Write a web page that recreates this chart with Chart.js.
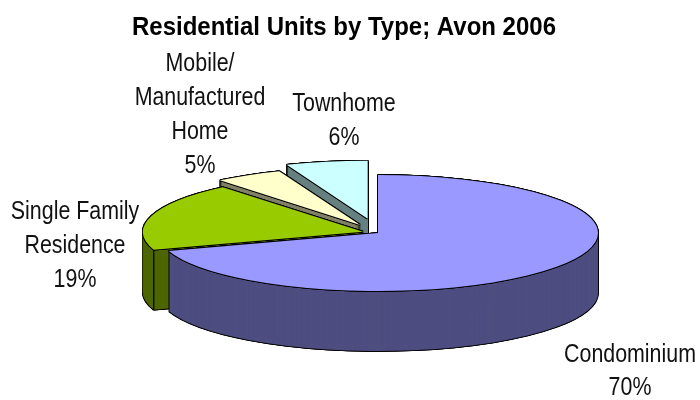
<!DOCTYPE html>
<html><head><meta charset="utf-8">
<style>html,body{margin:0;padding:0;background:#fff}#w{width:700px;height:400px}</style>
<script src="https://cdn.jsdelivr.net/npm/chart.js@4"></script>
</head><body><div id="w"><canvas id="c" width="700" height="400"></canvas></div>
<script>
const categories = ['Condominium','Single Family Residence','Mobile/ Manufactured Home','Townhome'];
const shares = [70,19,5,6];
const topColors = ['#9999FF','#99CC00','#FFFFCC','#CCFFFF'];
const wallColors = ['#4D4D80','#4D6600','#808066','#668080'];
const chartTitle = 'Residential Units by Type; Avon 2006';
const labelLines = [['Condominium','70%'],['Single Family','Residence','19%'],['Mobile/','Manufactured','Home','5%'],['Townhome','6%']];

const FONT = '"Liberation Sans",Arial,sans-serif';
const VIEW = {cx:378, cy:233, rx:220, ry:58, depth:60};
const EXPLODE = [0,0.071,0.159,0.25];
const LABEL_POS = [[630,355.5,33],[75,212,34],[200,64,34],[344,104,34]];
const TEXT_SQUEEZE = 0.855;

const pie3d = {
  id:'pie3d',
  beforeDraw(chart){
    const t = chart.titleBlock;
    t.left = 132; t.right = 556;
  },
  beforeDatasetsDraw(chart){
    const ctx = chart.ctx;
    const arcs = chart.getDatasetMeta(0).data;
    const place = (arc,i,d,ox,oy)=>{
      const R = arc.outerRadius;
      const mid = (arc.startAngle+arc.endAngle)/2;
      const e = EXPLODE[i]*R;
      ctx.translate(VIEW.cx+ox, VIEW.cy+d+oy);
      ctx.scale(VIEW.rx/R, VIEW.ry/R);
      ctx.translate(-arc.x+Math.cos(mid)*e, -arc.y+Math.sin(mid)*e);
    };
    const paint = (arc,i,d,ox,oy,color)=>{
      ctx.save();
      place(arc,i,d,ox,oy);
      const o = arc.options;
      arc.options = Object.assign(Object.create(o),{backgroundColor:color,borderWidth:0});
      arc.draw(ctx);
      arc.options = o;
      ctx.restore();
    };
    const w = 0.75;
    const ring = [[-w,0],[w,0],[0,-w],[0,w],[-w,-w],[w,-w],[-w,w],[w,w]];
    for(let i=arcs.length-1;i>=0;i--){
      const arc = arcs[i];
      for(const [ox,oy] of ring){
        for(let d=VIEW.depth;d>=0;d-=2) paint(arc,i,d,ox,oy,'#000');
      }
      for(let d=VIEW.depth;d>=0;d--) paint(arc,i,d,0,0,wallColors[i]);
      const mid=(arc.startAngle+arc.endAngle)/2, e=EXPLODE[i];
      const sx = VIEW.cx+VIEW.rx*(Math.cos(arc.startAngle)+Math.cos(mid)*e);
      const sy = VIEW.cy+VIEW.ry*(Math.sin(arc.startAngle)+Math.sin(mid)*e);
      ctx.save();ctx.strokeStyle='#000';ctx.lineWidth=1.2;ctx.beginPath();ctx.moveTo(sx,sy);ctx.lineTo(sx,sy+VIEW.depth);ctx.stroke();ctx.restore();
      for(const [ox,oy] of ring) paint(arc,i,0,ox,oy,'#000');
      paint(arc,i,0,0,0,topColors[i]);
    }
    return false;
  },
  afterDraw(chart){
    const ctx = chart.ctx;
    ctx.save();
    ctx.fillStyle='#111';
    ctx.font='25px '+FONT;
    ctx.textAlign='center';ctx.textBaseline='middle';
    labelLines.forEach((lines,i)=>{
      const [x,y,lh]=LABEL_POS[i];
      lines.forEach((t,k)=>ctx.fillText(t,x,y+k*lh,ctx.measureText(t).width*TEXT_SQUEEZE));
    });
    ctx.restore();
  }
};

new Chart(document.getElementById('c'),{
  type:'pie',
  data:{labels:categories,datasets:[{data:shares,backgroundColor:topColors,borderWidth:0}]},
  plugins:[pie3d],
  options:{
    responsive:false,animation:false,
    plugins:{
      legend:{display:false},tooltip:{enabled:false},
      title:{display:true,text:chartTitle,color:'#000',font:{family:FONT,size:26,weight:'bold'},padding:{top:12,bottom:4}}
    }
  }
});
</script></body></html>
